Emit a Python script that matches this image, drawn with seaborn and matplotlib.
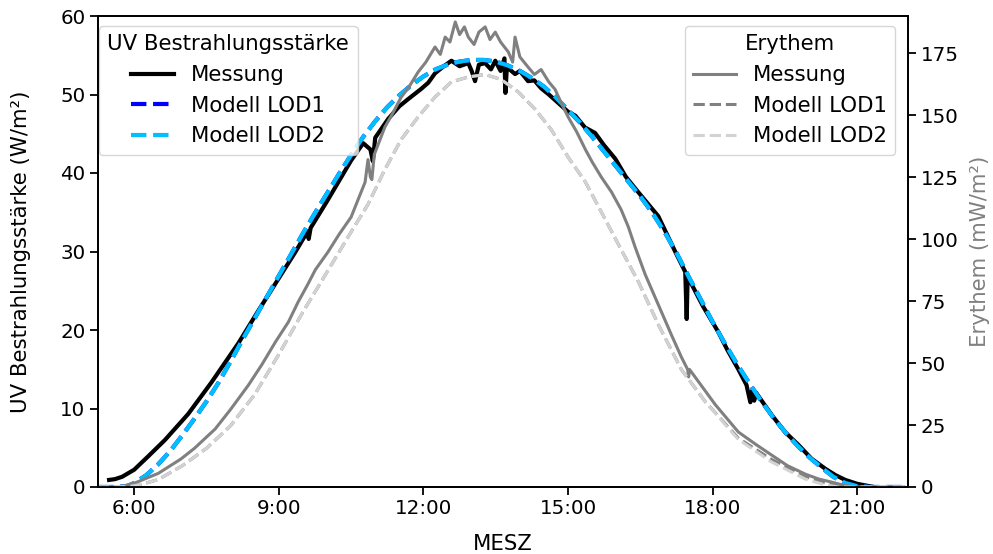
import matplotlib
matplotlib.use("Agg")
import matplotlib.pyplot as plt
from matplotlib.ticker import FuncFormatter, MultipleLocator
import seaborn as sns
import pandas as pd

# ---------------- data (time in hours, MESZ) ----------------
uv_mess_t = [5.48, 5.6, 5.75, 6.0, 6.29, 6.64, 7.12, 7.6, 8.16, 8.57, 8.99, 9.34, 9.6, 9.62, 9.66,
             10.0, 10.25, 10.5, 10.75, 10.9, 10.95, 11.0, 11.27, 11.5, 11.68, 11.95, 12.1, 12.24, 12.4,
             12.58, 12.75, 12.93, 13.0, 13.07, 13.15, 13.28, 13.4, 13.49, 13.6, 13.68, 13.7, 13.73,
             13.9, 14.0, 14.17, 14.3, 14.44, 14.6, 14.8, 15.0, 15.15, 15.35, 15.56, 15.75, 15.98,
             16.2, 16.45, 16.87, 17.22, 17.43, 17.46, 17.48, 17.8, 18.12, 18.3, 18.53, 18.7, 18.78,
             18.82, 18.86, 18.9, 19.22, 19.5, 19.78, 20.05, 20.34, 20.55, 20.75, 21.0, 21.17, 21.3]
uv_mess_v = [0.9, 1.0, 1.3, 2.2, 3.9, 6.0, 9.3, 13.3, 18.3, 22.4, 26.5, 29.9, 32.6, 31.6, 33.0,
             36.4, 39.0, 41.6, 43.8, 43.0, 41.5, 44.5, 46.9, 48.5, 49.4, 50.7, 51.5, 52.7, 53.5,
             54.3, 53.6, 54.0, 53.0, 51.7, 53.8, 54.0, 53.2, 54.3, 53.0, 54.6, 50.2, 53.5,
             52.6, 53.0, 51.7, 51.8, 50.8, 50.0, 48.9, 47.8, 47.3, 45.8, 45.1, 43.5, 41.8,
             39.5, 37.6, 34.5, 30.0, 27.4, 21.4, 26.8, 23.0, 19.7, 17.5, 15.0, 13.0, 10.8,
             12.3, 11.0, 12.0, 9.2, 7.0, 5.35, 3.6, 2.3, 1.5, 0.9, 0.4, 0.2, 0.05]

model_t = [5.25, 5.6, 5.85, 6.0, 6.25, 6.5, 6.75, 7.0, 7.25, 7.5, 7.75, 8.0, 8.25, 8.5, 8.75,
           9.0, 9.25, 9.5, 9.75, 10.0, 10.25, 10.5, 10.75, 11.0, 11.25, 11.5, 11.75, 12.0,
           12.25, 12.5, 12.75, 13.0, 13.25, 13.5, 13.75, 14.0, 14.25, 14.5, 14.75, 15.0,
           15.25, 15.5, 15.75, 16.0, 16.25, 16.5, 16.75, 17.0, 17.25, 17.5, 17.75, 18.0,
           18.25, 18.5, 18.75, 19.0, 19.25, 19.5, 19.75, 20.0, 20.25, 20.5, 20.75, 21.0,
           21.25, 21.5, 22.05]
uv_lod1_v = [0.0, 0.0, 0.1, 0.5, 1.5, 2.9, 4.6, 6.6, 8.7, 10.9, 13.3, 16.0, 18.8, 21.5, 24.2,
             26.9, 29.6, 32.3, 34.9, 37.4, 39.9, 42.3, 44.6, 46.6, 48.4, 49.9, 51.2, 52.3,
             53.2, 53.8, 54.2, 54.4, 54.4, 54.2, 53.7, 53.0, 52.1, 51.0, 49.6, 48.0,
             46.4, 44.6, 42.7, 40.8, 38.9, 37.0, 34.9, 32.5, 29.8, 26.8, 23.9, 21.0,
             18.3, 15.7, 13.3, 11.0, 8.9, 7.0, 5.3, 3.8, 2.5, 1.3, 0.5, 0.1,
             0.0, 0.0, 0.0]
uv_lod2_v = [0.0, 0.0, 0.1, 0.5, 1.5, 2.9, 4.6, 6.6, 8.7, 10.9, 13.3, 16.0, 18.8, 21.5, 24.2,
             26.9, 29.6, 32.3, 34.9, 37.4, 39.9, 42.3, 44.6, 46.6, 48.4, 49.9, 51.2, 52.3,
             53.2, 53.8, 54.2, 54.4, 54.4, 54.2, 53.7, 53.0, 52.1, 51.0, 49.6, 48.0,
             46.4, 44.6, 42.7, 40.8, 38.9, 37.0, 34.9, 32.5, 29.8, 26.8, 23.9, 21.0,
             18.3, 15.7, 13.3, 11.0, 8.9, 7.0, 5.3, 3.8, 2.5, 1.3, 0.5, 0.1,
             0.0, 0.0, 0.0]

ery_mess_t = [5.75, 6.0, 6.25, 6.5, 6.97, 7.25, 7.68, 8.0, 8.37, 8.65, 8.93, 9.2, 9.4, 9.6, 9.76,
              10.02, 10.25, 10.5, 10.79, 10.85, 10.9, 10.93, 10.98, 11.2, 11.35, 11.54, 11.7,
              11.89, 12.05, 12.24, 12.35, 12.45, 12.55, 12.66, 12.75, 12.85, 12.93, 13.05, 13.15,
              13.28, 13.38, 13.49, 13.6, 13.76, 13.85, 13.9, 14.0, 14.17, 14.3, 14.44, 14.6,
              14.73, 14.85, 15.0, 15.18, 15.36, 15.5, 15.69, 15.9, 16.1, 16.25, 16.39, 16.6,
              16.87, 17.14, 17.35, 17.48, 17.5, 17.52, 18.05, 18.53, 18.9, 19.22, 19.55, 19.92,
              20.2, 20.46, 20.7, 20.88, 21.1]
ery_mess_v = [0.3, 1.5, 3.5, 5.5, 11.3, 15.6, 23.4, 31.3, 41.1, 49.4, 58.5, 66.6, 74.6, 81.7, 87.7,
              94.8, 101.9, 108.9, 123.0, 132.1, 125.0, 124.0, 134.1, 145.2, 150.3, 157.3, 161.4,
              167.4, 171.4, 177.5, 174.5, 181.5, 179.5, 187.6, 182.5, 185.6, 181.5, 178.5, 183.5,
              185.6, 180.5, 183.5, 179.5, 175.5, 171.4, 181.5, 173.5, 169.4, 166.4, 168.4, 163.4,
              160.4, 155.3, 149.3, 143.2, 136.1, 131.1, 125.0, 119.0, 111.9, 104.9, 96.8, 85.7,
              73.6, 61.5, 52.4, 47.4, 44.4, 47.4, 33.3, 22.2, 17.1, 12.9, 8.6, 5.2,
              3.2, 2.0, 0.8, 0.2, 0.0]

ery_model_t = [5.25, 5.9, 6.14, 6.5, 7.0, 7.5, 8.0, 8.5, 9.0, 9.5, 10.0, 10.5, 10.85, 11.2,
               11.54, 11.89, 12.24, 12.58, 12.93, 13.28, 13.61, 13.97, 14.32, 14.65, 15.0,
               15.36, 15.69, 16.1, 16.46, 16.87, 17.35, 17.85, 18.53, 19.22, 19.92, 20.3,
               20.6, 20.9, 22.05]
ery_lod1_v = [0.0, 0.2, 1.0, 3.0, 8.6, 15.6, 24.7, 37.3, 53.5, 70.6, 86.7, 102.9, 114.0, 128.1,
              140.2, 149.3, 157.3, 163.4, 165.4, 166.4, 164.4, 159.3, 152.3, 144.2, 133.1,
              123.0, 110.9, 95.8, 82.7, 65.6, 47.4, 34.3, 19.7, 11.1, 4.2, 1.8,
              0.6, 0.0, 0.0]
ery_lod2_v = [0.0, 0.2, 1.0, 3.0, 8.6, 15.6, 24.7, 37.3, 53.5, 70.6, 86.7, 102.9, 114.0, 128.1,
              140.2, 149.3, 157.3, 163.4, 165.4, 166.4, 164.4, 159.3, 152.3, 144.2, 133.1,
              123.0, 110.9, 95.8, 82.7, 65.6, 47.4, 34.3, 19.2, 10.1, 3.2, 1.0,
              0.0, 0.0, 0.0]

x_ticks = [6, 9, 12, 15, 18, 21]

# ---------------- plotting ----------------
plt.rcParams.update({
    "font.family": ["DejaVu Sans"],
    "axes.linewidth": 1.3,
    "xtick.major.size": 5.5, "ytick.major.size": 5.5,
    "xtick.major.width": 1.3, "ytick.major.width": 1.3,
})

fig = plt.figure(figsize=(9.93, 5.54), dpi=100)
ax = fig.add_axes([98 / 993, 67 / 554, 810 / 993, 471 / 554])
ax2 = ax.twinx()

uv_df = pd.DataFrame({"t": uv_mess_t, "v": uv_mess_v})
uvm_df = pd.DataFrame({"t": model_t, "lod1": uv_lod1_v, "lod2": uv_lod2_v})
er_df = pd.DataFrame({"t": ery_mess_t, "v": ery_mess_v})
erm_df = pd.DataFrame({"t": ery_model_t, "lod1": ery_lod1_v, "lod2": ery_lod2_v})

lw_uv = 3.0
lw_er = 2.2
sns.lineplot(data=uv_df, x="t", y="v", ax=ax, color="black", lw=lw_uv, label="Messung")
sns.lineplot(data=uvm_df, x="t", y="lod1", ax=ax, color="blue", lw=lw_uv, ls="--", label="Modell LOD1")
sns.lineplot(data=uvm_df, x="t", y="lod2", ax=ax, color="deepskyblue", lw=lw_uv, ls="--", label="Modell LOD2")

sns.lineplot(data=er_df, x="t", y="v", ax=ax2, color="gray", lw=lw_er, label="Messung")
sns.lineplot(data=erm_df, x="t", y="lod1", ax=ax2, color="gray", lw=lw_er, ls="--", label="Modell LOD1")
sns.lineplot(data=erm_df, x="t", y="lod2", ax=ax2, color="lightgray", lw=lw_er, ls="--", label="Modell LOD2")

ax.set_xlim(5.25, 22.05)
ax.set_ylim(0, 60)
ax2.set_ylim(0, 190)
ax.set_xticks(x_ticks)
ax.xaxis.set_major_formatter(FuncFormatter(lambda v, p: f"{int(round(v))}:00"))
ax.yaxis.set_major_locator(MultipleLocator(10))
ax2.yaxis.set_major_locator(MultipleLocator(25))

tick_fs = 14.3
lab_fs = 15.3
ax.tick_params(labelsize=tick_fs)
ax2.tick_params(labelsize=tick_fs)
ax.set_xlabel("MESZ", fontsize=lab_fs, labelpad=11)
ax.set_ylabel("UV Bestrahlungsstärke (W/m²)", fontsize=lab_fs)
ax2.set_ylabel("Erythem (mW/m²)", fontsize=lab_fs, color="gray")
ax.yaxis.set_label_coords(-0.0827, 0.5)
ax2.yaxis.set_label_coords(1.077, 0.5)

leg_fs = 15.3
h1, l1 = ax.get_legend_handles_labels()
h2, l2 = ax2.get_legend_handles_labels()
ax.legend(h1, l1, title="UV Bestrahlungsstärke", loc="upper left", fontsize=leg_fs,
          title_fontsize=leg_fs, handlelength=2.0, borderaxespad=0,
          bbox_to_anchor=(0.001, 0.979))
ax2.legend(h2, l2, title="Erythem", loc="upper right", fontsize=leg_fs,
           title_fontsize=leg_fs, handlelength=2.0, borderaxespad=0,
           bbox_to_anchor=(0.984, 0.979))

fig.savefig("out.png", dpi=100)
